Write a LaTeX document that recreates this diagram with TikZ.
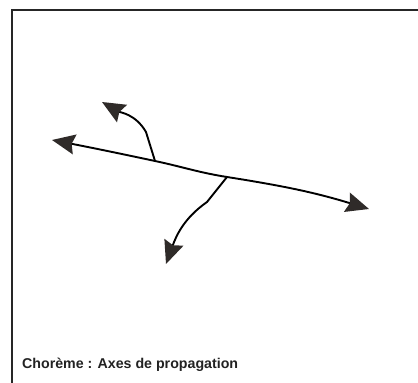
\documentclass[tikz,border=0pt]{standalone}
\usepackage{fontspec}
\setmainfont{Liberation Sans}
\usetikzlibrary{arrows.meta}
\definecolor{headgray}{HTML}{2F2B29}
\definecolor{textgray}{HTML}{222222}
\tikzset{
  bighead/.tip={Stealth[length=23pt, width=20pt, inset=3pt, color=headgray]},
  axisline/.style={line width=1.9pt, black, line cap=round, arrows={-bighead}},
  axisboth/.style={line width=1.9pt, black, line cap=round, arrows={bighead-bighead}},
  framerule/.style={line width=1.5pt, black!85},
  caption/.style={font=\fontsize{14.2pt}{17pt}\selectfont\bfseries, text=textgray, inner sep=0pt, anchor=base west}
}
\begin{document}
\begin{tikzpicture}[x=1pt,y=1pt]
\useasboundingbox (0,0) rectangle (418,383);
% frame (top and left edges)
\coordinate (FTL) at (12,373);
\coordinate (FTR) at (418,373);
\coordinate (FBL) at (12,0);
\draw[framerule] (FTR) -- (FTL) -- (FBL);
% main axis
\coordinate (L) at (52,243);
\coordinate (J1) at (155,222);
\coordinate (J2) at (227,206);
\coordinate (R) at (369,174);
\draw[axisboth] (L) to[out=-11, in=168] (J1) to[out=-12, in=171] (J2) to[out=-9, in=163] (R);
% branch 1 (upward)
\coordinate (K1) at (146,251);
\coordinate (T1) at (102,281);
\draw[axisline] (J1) -- (K1) to[out=120, in=-30] (T1);
% branch 2 (downward)
\coordinate (K2) at (207,181);
\coordinate (T2) at (166,119);
\draw[axisline] (J2) -- (K2) to[out=215, in=70] (T2);
% caption
\node[caption] (cap) at (22,14) {Chorème : Axes de propagation};
\end{tikzpicture}
\end{document}
